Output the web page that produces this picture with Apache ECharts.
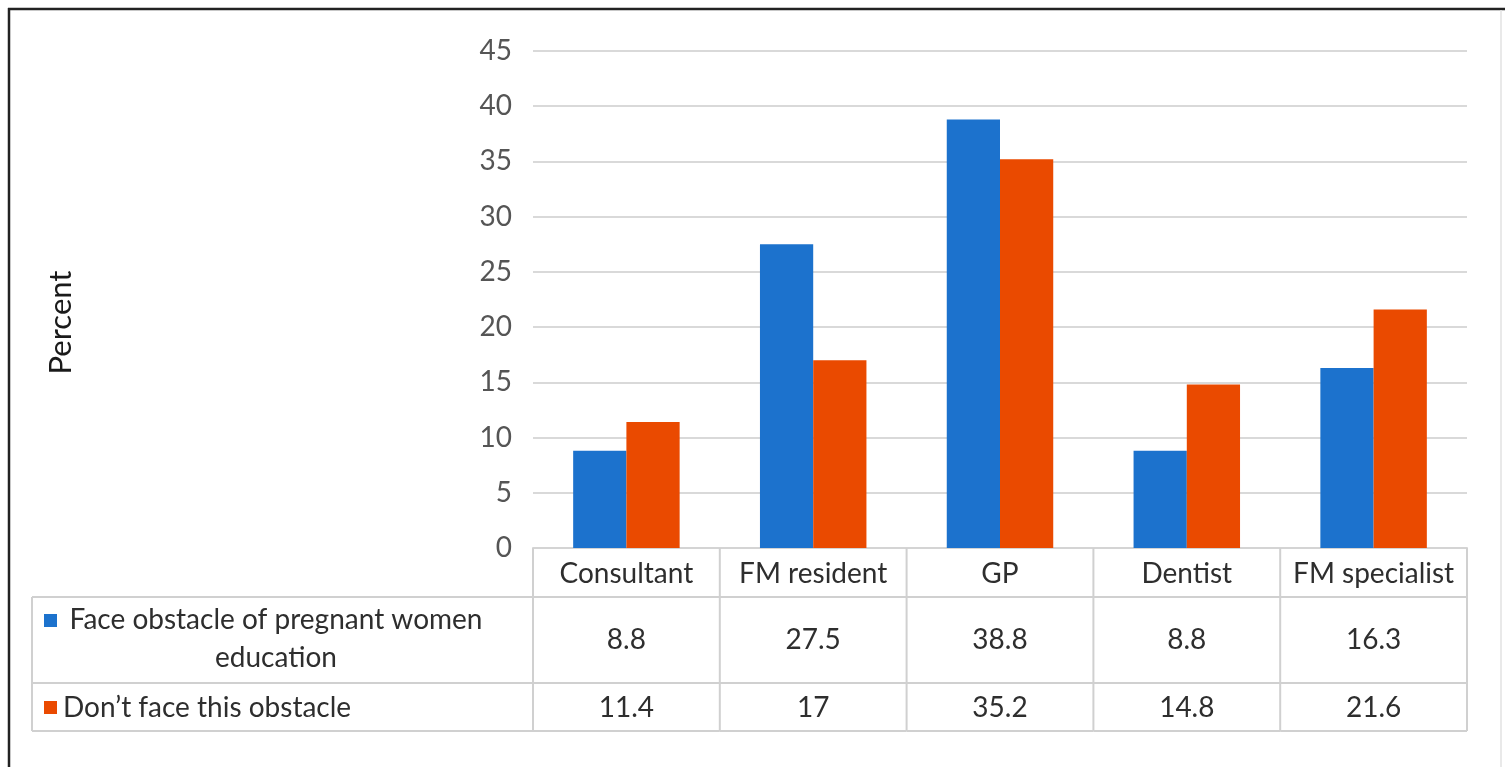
<!DOCTYPE html>
<html>
<head>
<meta charset="utf-8">
<script src="https://cdn.jsdelivr.net/npm/echarts@6/dist/echarts.min.js"></script>
<style>
  html, body { margin: 0; padding: 0; background: #fff; }
  #chart { width: 1505px; height: 767px; }
</style>
</head>
<body>
<div id="chart"></div>
<script>
// Professions surveyed
const categories = ['Consultant', 'FM resident', 'GP', 'Dentist', 'FM specialist'];
// Series names (shown in the data table's legend column)
const seriesNames = ['Face obstacle of pregnant women\neducation', 'Don\u2019t face this obstacle'];
// Percent values per profession
const faceObstacle = [8.8, 27.5, 38.8, 8.8, 16.3];
const noObstacle = [11.4, 17, 35.2, 14.8, 21.6];
// Value axis ticks
const yTicks = [0, 5, 10, 15, 20, 25, 30, 35, 40, 45];

const COLORS = ['#1c72cd', '#ea4a00'];
const FONT = 'Lato';
const TABLE_LINE = '#d0d0d0';
const TEXT = '#2e2e2e';
const FONT_SIZE = 28;
// Row heights of the data table under the plot
const HEADER_H = 49, ROW1_H = 86, ROW2_H = 48;
const TABLE_LEFT = 32;

const chart = echarts.init(document.getElementById('chart'));

function tableCell(params, api) {
  const idx = api.value(0);
  const base = api.coord([idx, 0]);
  const w = api.size([1, 0])[0];
  const x0 = base[0] - w / 2;
  const x1 = x0 + w;
  const y0 = base[1];
  const y1 = y0 + HEADER_H;
  const y2 = y1 + ROW1_H;
  const y3 = y2 + ROW2_H;
  const line = (ax, ay, bx, by) => ({
    type: 'line',
    shape: { x1: ax, y1: ay, x2: bx, y2: by },
    style: { stroke: TABLE_LINE, lineWidth: 2 }
  });
  const txt = (s, x, y, align) => ({
    type: 'text',
    style: {
      text: s, x: x, y: y, align: align || 'center', verticalAlign: 'middle',
      fill: TEXT, font: FONT_SIZE + 'px ' + FONT, lineHeight: 38
    }
  });
  const children = [
    line(x0, y0, x0, y3),
    line(x0, y1, x1, y1),
    line(x0, y2, x1, y2),
    line(x0, y3, x1, y3),
    txt(categories[idx], base[0], y0 + HEADER_H / 2 + 1),
    txt(String(faceObstacle[idx]), base[0], y1 + ROW1_H / 2),
    txt(String(noObstacle[idx]), base[0], y2 + ROW2_H / 2 + 1)
  ];
  if (idx === categories.length - 1) {
    children.push(line(x1, y0, x1, y3));
  }
  if (idx === 0) {
    // legend column of the data table
    children.push(
      line(TABLE_LEFT, y1, x0, y1),
      line(TABLE_LEFT, y2, x0, y2),
      line(TABLE_LEFT, y3, x0, y3),
      line(TABLE_LEFT, y1, TABLE_LEFT, y3),
      { type: 'rect', shape: { x: 44, y: y1 + 17, width: 13, height: 13 }, style: { fill: COLORS[0] } },
      { type: 'rect', shape: { x: 44, y: y2 + 18, width: 13, height: 13 }, style: { fill: COLORS[1] } },
      txt(seriesNames[0], 276, y1 + ROW1_H / 2 - 1),
      txt(seriesNames[1], 63, y2 + ROW2_H / 2 + 1, 'left')
    );
  }
  return { type: 'group', children: children };
}

chart.setOption({
  animation: false,
  backgroundColor: '#fff',
  grid: { left: 533, right: 38, top: 51, bottom: 219 },
  xAxis: {
    type: 'category',
    data: categories,
    axisLine: { lineStyle: { color: '#d4d4d4', width: 2 } },
    axisTick: { show: false },
    axisLabel: { show: false }
  },
  yAxis: {
    type: 'value',
    min: yTicks[0],
    max: yTicks[yTicks.length - 1],
    interval: 5,
    name: 'Percent',
    nameLocation: 'middle',
    nameGap: 457,
    nameRotate: 90,
    nameTextStyle: { color: '#1a1a1a', fontFamily: FONT, fontSize: 31, padding: [0, 46, 0, 0] },
    axisLine: { show: false },
    axisTick: { show: false },
    axisLabel: { color: '#555555', fontFamily: FONT, fontSize: 28, margin: 21 },
    splitLine: { lineStyle: { color: '#d9d9d9', width: 2 } }
  },
  series: [
    {
      name: seriesNames[0], type: 'bar', data: faceObstacle,
      itemStyle: { color: COLORS[0] }, barGap: '0%', barCategoryGap: '43%'
    },
    {
      name: seriesNames[1], type: 'bar', data: noObstacle,
      itemStyle: { color: COLORS[1] }, barGap: '0%', barCategoryGap: '43%'
    },
    {
      type: 'custom', clip: false, silent: true,
      data: categories.map((c, i) => [i]),
      encode: { x: 0 },
      renderItem: tableCell
    }
  ],
  graphic: [
    // picture frame
    { type: 'line', shape: { x1: 9, y1: 8, x2: 9, y2: 767 }, style: { stroke: '#222', lineWidth: 2.5 } },
    { type: 'line', shape: { x1: 8, y1: 9, x2: 1505, y2: 9 }, style: { stroke: '#222', lineWidth: 2.5 } },
    { type: 'line', shape: { x1: 1501, y1: 10, x2: 1501, y2: 767 }, style: { stroke: '#e2e2e2', lineWidth: 1.5 } }
  ]
});
</script>
</body>
</html>
